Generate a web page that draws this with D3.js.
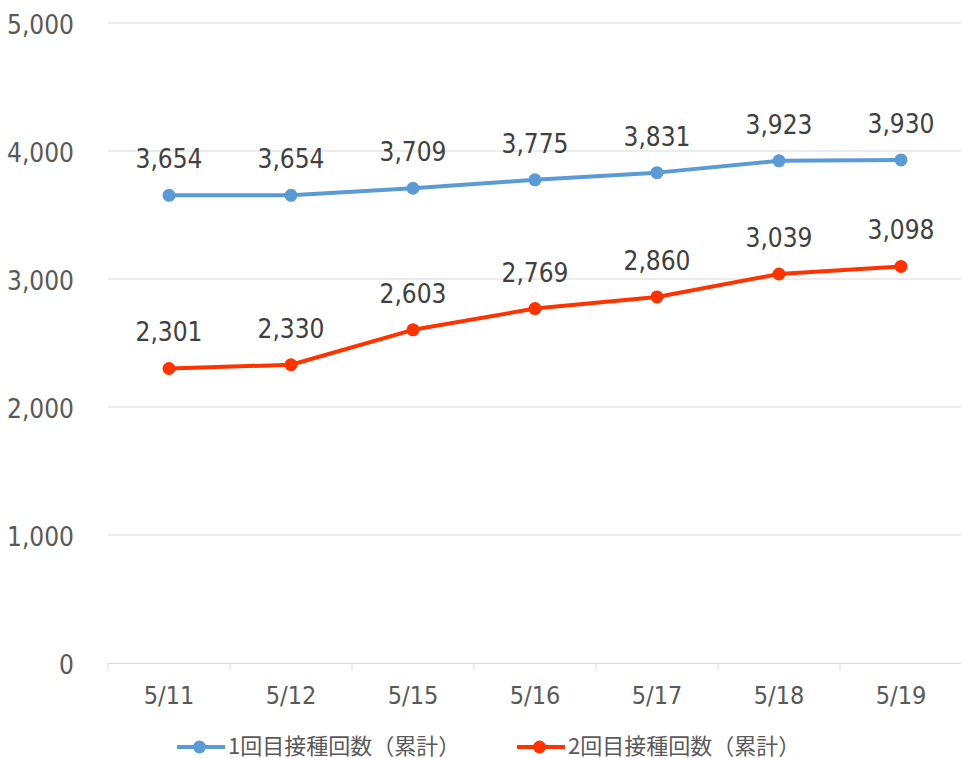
<!DOCTYPE html>
<html><head><meta charset="utf-8">
<script src="https://cdn.jsdelivr.net/npm/d3@7"></script>
<style>body{margin:0;background:#fff;}svg{display:block;}.cond{font-stretch:condensed;}</style>
</head><body>
<svg id="c" width="961" height="758"></svg>
<script>
const categories = ["5/11","5/12","5/15","5/16","5/17","5/18","5/19"];
const dose1 = [3654,3654,3709,3775,3831,3923,3930];
const dose2 = [2301,2330,2603,2769,2860,3039,3098];
const seriesNames = ["1回目接種回数（累計）","2回目接種回数（累計）"];
const yTicks = [0,1000,2000,3000,4000,5000];

(function(){
const svg = d3.select("#c");
const font = "'DejaVu Sans', sans-serif";
const mL=108, mR=962, mT=23, mB=663;
const x = d3.scaleBand().domain(categories).range([mL,mR]);
const y = d3.scaleLinear().domain([0,5000]).range([mB,mT]);
const fmt = d3.format(",");

svg.append("g").selectAll("line").data(yTicks.filter(d=>d>0)).join("line")
  .attr("x1",mL).attr("x2",mR).attr("y1",d=>y(d)).attr("y2",d=>y(d))
  .attr("stroke","#d9d9d9").attr("stroke-width",1);

const ya = svg.append("g").attr("transform",`translate(${mL},0)`)
  .call(d3.axisLeft(y).tickValues(yTicks).tickFormat(fmt).tickSize(0).tickPadding(34));
ya.select(".domain").remove();
ya.selectAll("text").attr("class","cond").attr("font-family",font).attr("font-size",26).attr("fill","#595959")
  .attr("dy",null).attr("y",10);

const xa = svg.append("g").attr("transform",`translate(0,${mB})`)
  .call(d3.axisBottom(x).tickSize(0).tickPadding(20));
xa.select(".domain").attr("stroke","#d9d9d9");
xa.selectAll("text").attr("class","cond").attr("font-family",font).attr("font-size",25).attr("fill","#595959")
  .attr("dy",null).attr("y",41);
const bounds = categories.map(c=>x(c)).concat([x(categories[categories.length-1])+x.bandwidth()]);
svg.append("g").selectAll("line").data(bounds).join("line")
  .attr("x1",d=>d).attr("x2",d=>d).attr("y1",mB).attr("y2",mB+7)
  .attr("stroke","#d9d9d9");

const colors = ["#5b9bd5","#ff3300"];
const series = [dose1,dose2];
const cx = d=>x(d)+x.bandwidth()/2;
series.forEach((vals,i)=>{
  const pts = categories.map((c,j)=>[cx(c),y(vals[j]),vals[j]]);
  svg.append("path").datum(pts).attr("d",d3.line()).attr("fill","none")
    .attr("stroke",colors[i]).attr("stroke-width",4).attr("stroke-linejoin","round");
  svg.append("g").selectAll("circle").data(pts).join("circle")
    .attr("cx",d=>d[0]).attr("cy",d=>d[1]).attr("r",6.5).attr("fill",colors[i]);
  svg.append("g").selectAll("text").data(pts).join("text")
    .attr("class","cond")
    .attr("x",d=>d[0]).attr("y",d=>d[1]-27).attr("text-anchor","middle")
    .attr("font-family",font).attr("font-size",26).attr("fill","#404040")
    .text(d=>fmt(d[2]));
});

const legX = [177,517];
seriesNames.forEach((n,i)=>{
  const g = svg.append("g").attr("transform",`translate(${legX[i]},747)`);
  g.append("line").attr("x1",0).attr("x2",48).attr("stroke",colors[i]).attr("stroke-width",4);
  g.append("circle").attr("cx",22.5).attr("r",6.5).attr("fill",colors[i]);
  g.append("text").attr("x",51).attr("y",7).attr("font-family","'Noto Sans CJK JP', sans-serif")
    .attr("font-size",22).attr("fill","#595959").text(n);
});
})();
</script>
</body></html>
